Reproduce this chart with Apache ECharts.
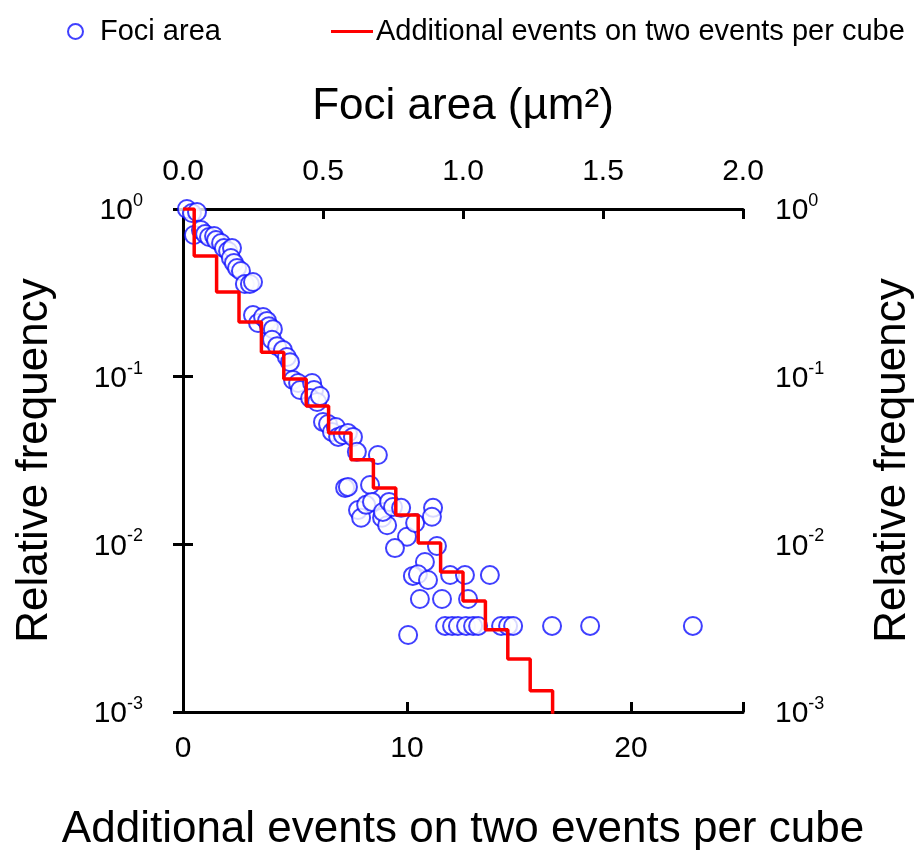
<!DOCTYPE html>
<html>
<head>
<meta charset="utf-8">
<script src="https://cdn.jsdelivr.net/npm/echarts@6/dist/echarts.min.js"></script>
<style>
html,body{margin:0;padding:0;background:#fff;}
#chart{width:921px;height:850px;}
</style>
</head>
<body>
<div id="chart"></div>
<script>
// Foci area (µm²) vs relative frequency (scatter, top axis)
var fociArea = [0.014,0.032,0.050,0.039,0.064,0.079,0.093,0.111,0.118,0.136,0.146,0.161,0.175,0.171,0.182,0.193,0.207,0.221,0.239,0.250,
  0.250,0.268,0.286,0.300,0.307,0.321,0.318,0.336,0.357,0.371,0.382,
  0.393,0.411,0.418,0.461,0.468,0.454,0.479,0.489,0.500,0.518,0.532,0.546,0.554,0.571,0.589,0.607,
  0.621,0.696,0.579,0.589,0.668,
  0.625,0.636,0.654,0.675,0.711,0.729,0.714,0.736,0.750,0.779,0.800,0.757,0.829,0.893,0.889,0.907,0.864,
  0.821,0.839,0.875,0.954,1.007,1.096,0.846,0.925,1.018,0.804,
  0.936,0.961,0.982,1.011,1.036,1.054,1.136,1.161,1.179,1.318,1.454,1.821];
var fociFreq = [1.0,0.946,0.96,0.700,0.749,0.709,0.681,0.690,0.653,0.627,0.585,0.562,0.585,0.510,0.477,0.445,0.427,0.357,0.357,0.367,
  0.233,0.209,0.227,0.215,0.200,0.192,0.166,0.152,0.144,0.131,0.122,
  0.0955,0.0917,0.0833,0.0917,0.0833,0.0746,0.0706,0.0767,0.0537,0.0522,0.0468,0.0501,0.0437,0.0449,0.0461,0.0437,
  0.0356,0.0341,0.0217,0.0220,0.0226,
  0.0160,0.0144,0.0172,0.0179,0.0144,0.0130,0.0156,0.0179,0.0167,0.0165,0.0111,0.0095,0.0134,0.0165,0.0146,0.00977,0.00785,
  0.00648,0.00663,0.00613,0.00656,0.00656,0.00656,0.00472,0.00472,0.00472,0.00288,
  0.00326,0.00326,0.00326,0.00326,0.00326,0.00326,0.00326,0.00326,0.00326,0.00326,0.00326,0.00326];

// Additional events on two events per cube (step line, bottom axis)
var events = [0,1,2,3,4,5,6,7,8,9,10,11,12,13,14,15,16,17];
var eventFreq = [1.0,0.524,0.320,0.212,0.140,0.0969,0.0669,0.0462,0.0319,0.0217,0.01497,0.0102,0.00685,0.00460,0.00309,0.00207,0.00134,0.0009];

var xBottomTicks = [0,10,20];
var xTopTicks = ['0.0','0.5','1.0','1.5','2.0'];

var FONT = 'Liberation Sans, Arial, sans-serif';
var chart = echarts.init(document.getElementById('chart'), null, {renderer:'canvas'});

var scatterData = fociArea.map(function(x,i){return [x, fociFreq[i]];});
var lineData = events.map(function(x,i){return [x, eventFreq[i]];});

function expLabel(v){
  var e = Math.round(Math.log10(v));
  return '{b|10}{s|' + e + '}';
}
var richY = {
  b:{fontSize:30, fontFamily:FONT, color:'#000', verticalAlign:'bottom', lineHeight:34},
  s:{fontSize:18, fontFamily:FONT, color:'#000', verticalAlign:'top', lineHeight:34, padding:[0,0,12,0]}
};
var lineStyleAxis = {color:'#000', width:3};
var tickStyle = {show:true, inside:true, length:10, lineStyle:{color:'#000', width:3}};

chart.setOption({
  animation:false,
  backgroundColor:'#fff',
  legend:[
    {left:62, top:12, itemWidth:15, itemHeight:15, data:[{name:'Foci area', icon:'emptyCircle'}],
     itemStyle:{borderWidth:1.5},
     textStyle:{fontSize:29, fontFamily:FONT, color:'#000', padding:[0,0,0,12]}},
    {left:326, top:12, itemWidth:42, itemHeight:3, data:[{name:'Additional events on two events per cube', icon:'rect'}],
     textStyle:{fontSize:29, fontFamily:FONT, color:'#000', padding:[0,0,0,-2]}}
  ],
  grid:{left:183, right:178, top:209, bottom:138, containLabel:false, outerBoundsMode:'none'},
  xAxis:[
    {type:'value', position:'bottom', min:0, max:25, interval:10,
     name:'Additional events on two events per cube', nameLocation:'middle', nameGap:96,
     nameTextStyle:{fontSize:44, fontFamily:FONT, color:'#000'},
     axisLine:{show:true, lineStyle:lineStyleAxis},
     axisTick:tickStyle,
     axisLabel:{fontSize:30, fontFamily:FONT, color:'#000', margin:22,
       formatter:function(v){return xBottomTicks.indexOf(v)>=0 ? String(v) : '';}},
     splitLine:{show:false}},
    {type:'value', position:'top', min:0, max:2, interval:0.5,
     name:'Foci area (µm²)', nameLocation:'middle', nameGap:80,
     nameTextStyle:{fontSize:44, fontFamily:FONT, color:'#000'},
     axisLine:{show:true, lineStyle:lineStyleAxis},
     axisTick:tickStyle,
     axisLabel:{fontSize:30, fontFamily:FONT, color:'#000', margin:22,
       formatter:function(v){var i=Math.round(v/0.5); return xTopTicks[i]||'';}},
     splitLine:{show:false}}
  ],
  yAxis:[
    {type:'log', logBase:10, position:'left', min:0.001, max:1,
     name:'Relative frequency', nameLocation:'middle', nameGap:126,
     nameTextStyle:{fontSize:44, fontFamily:FONT, color:'#000'},
     axisLine:{show:true, lineStyle:lineStyleAxis},
     axisTick:tickStyle,
     axisLabel:{margin:40, formatter:expLabel, rich:richY},
     splitLine:{show:false}, minorTick:{show:false}},
    {type:'log', logBase:10, position:'right', min:0.001, max:1,
     name:'Relative frequency', nameLocation:'middle', nameGap:128, nameRotate:90,
     nameTextStyle:{fontSize:44, fontFamily:FONT, color:'#000'},
     axisLine:{show:true, lineStyle:lineStyleAxis},
     axisTick:tickStyle,
     axisLabel:{margin:32, formatter:expLabel, rich:richY},
     splitLine:{show:false}, minorTick:{show:false}}
  ],
  series:[
    {name:'Foci area', type:'scatter', xAxisIndex:1, yAxisIndex:0,
     symbol:'emptyCircle', symbolSize:18, clip:false,
     itemStyle:{color:'#1010ff', borderColor:'#1010ff', borderWidth:1.4},
     data:scatterData, z:3},
    {name:'Additional events on two events per cube', type:'line', xAxisIndex:0, yAxisIndex:0,
     step:'middle', symbol:'none', clip:true,
     lineStyle:{color:'#ff0000', width:3.5}, itemStyle:{color:'#ff0000'},
     data:lineData, z:4}
  ]
});
</script>
</body>
</html>
